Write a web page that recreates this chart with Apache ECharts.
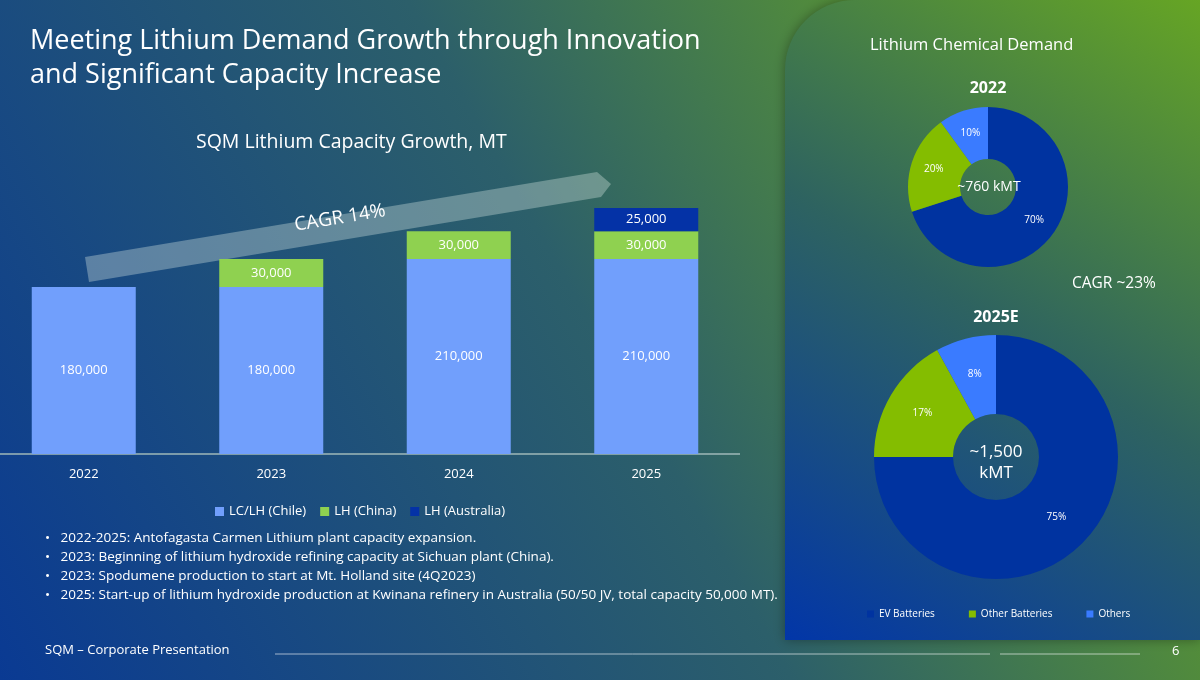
<!DOCTYPE html>
<html>
<head>
<meta charset="utf-8">
<script src="https://cdn.jsdelivr.net/npm/echarts@6/dist/echarts.min.js"></script>
<style>html,body{margin:0;padding:0;}#main{width:1200px;height:680px;}</style>
</head>
<body>
<div id="main"></div>
<script>
// data
const years = ['2022', '2023', '2024', '2025'];
const chile = [180000, 180000, 210000, 210000];
const china = [null, 30000, 30000, 30000];
const australia = [null, null, null, 25000];
const demandNames = ['EV Batteries', 'Other Batteries', 'Others'];
const demand2022 = [70, 20, 10];
const demand2025 = [75, 17, 8];
const bullets = [
  '2022-2025: Antofagasta Carmen Lithium plant capacity expansion.',
  '2023: Beginning of lithium hydroxide refining capacity at Sichuan plant (China).',
  '2023: Spodumene production to start at Mt. Holland site (4Q2023)',
  '2025: Start-up of lithium hydroxide production at Kwinana refinery in Australia (50/50 JV, total capacity 50,000 MT).'
];

const font = 'Open Sans';
const pieColors = ['#0033a0', '#84bd00', '#3a7bff'];
const fmtNum = p => p.value.toLocaleString('en-US');

const chart = echarts.init(document.getElementById('main'));

const bulletTexts = bullets.map((b, i) => ({
  type: 'text', left: 45, top: 531 + i * 19,
  style: { text: '•   ' + b, fill: '#fff', font: '13.5px ' + font }
}));

const option = {
  textStyle: { fontFamily: font },
  graphic: [
    { type: 'rect', z: -10, shape: { x: 0, y: 0, width: 1200, height: 680 },
      style: { fill: new echarts.graphic.LinearGradient(0, 1, 1, 0, [
        { offset: 0, color: '#0a3a93' }, { offset: 0.5, color: '#2c5f6a' }, { offset: 1, color: '#73b312' }]) } },
    { type: 'rect', z: -9, shape: { x: 785, y: 0, width: 415, height: 640, r: [70, 0, 0, 0] },
      style: { fill: new echarts.graphic.LinearGradient(0, 1, 1, 0, [
        { offset: 0, color: '#0236a8' }, { offset: 0.5, color: '#2e6360' }, { offset: 1, color: '#66a524' }]),
        shadowBlur: 12, shadowColor: 'rgba(0,0,0,0.35)' } },
    { type: 'polygon', z: -5, shape: { points: [[85, 257], [597, 172], [611, 184], [601, 197], [89, 282]] },
      style: { fill: 'rgba(220,235,230,0.35)' } },
    { type: 'text', x: 340, y: 218, rotation: 9.4 * Math.PI / 180,
      style: { text: 'CAGR 14%', fill: '#fff', font: '19px ' + font, align: 'center', verticalAlign: 'middle' } },
    { type: 'text', left: 30, top: 24,
      style: { text: 'Meeting Lithium Demand Growth through Innovation\nand Significant Capacity Increase', fill: '#fff', font: '27px ' + font, lineHeight: 34 } },
    { type: 'text', left: 196, top: 132, style: { text: 'SQM Lithium Capacity Growth, MT', fill: '#fff', font: '19.5px ' + font } },
    { type: 'text', left: 870, top: 37, style: { text: 'Lithium Chemical Demand', fill: '#fff', font: '16.5px ' + font } },
    { type: 'text', x: 988, y: 88, style: { text: '2022', fill: '#fff', font: 'bold 16px ' + font, align: 'center', verticalAlign: 'middle' } },
    { type: 'text', x: 996, y: 317, style: { text: '2025E', fill: '#fff', font: 'bold 16px ' + font, align: 'center', verticalAlign: 'middle' } },
    { type: 'text', left: 1072, top: 276, style: { text: 'CAGR ~23%', fill: '#fff', font: '15.5px ' + font } },
    { type: 'text', z: 100, x: 989, y: 187, style: { text: '~760 kMT', fill: '#fff', font: '14px ' + font, align: 'center', verticalAlign: 'middle' } },
    { type: 'text', z: 100, x: 996, y: 463, style: { text: '~1,500\nkMT', fill: '#fff', font: '17px ' + font, align: 'center', verticalAlign: 'middle', lineHeight: 21 } },
    ...bulletTexts,
    { type: 'text', left: 45, top: 644, style: { text: 'SQM – Corporate Presentation', fill: '#fff', font: '13px ' + font } },
    { type: 'line', shape: { x1: 275, y1: 654, x2: 990, y2: 654 }, style: { stroke: 'rgba(255,255,255,0.6)', lineWidth: 1 } },
    { type: 'line', shape: { x1: 1000, y1: 654, x2: 1140, y2: 654 }, style: { stroke: 'rgba(255,255,255,0.6)', lineWidth: 1 } },
    { type: 'line', shape: { x1: 0, y1: 454, x2: 740, y2: 454 }, style: { stroke: '#9fb8b8', lineWidth: 1.5 } },
    { type: 'text', left: 1172, top: 645, style: { text: '6', fill: '#fff', font: '13px ' + font } }
  ],
  legend: [
    { data: ['LC/LH (Chile)', 'LH (China)', 'LH (Australia)'], left: 210, top: 500, itemWidth: 9, itemHeight: 9,
      itemGap: 14, icon: 'rect', textStyle: { color: '#fff', fontSize: 13, fontFamily: font } },
    { data: demandNames, left: 862, top: 604, itemWidth: 7, itemHeight: 7, itemGap: 34, icon: 'rect',
      textStyle: { color: '#fff', fontSize: 10, fontFamily: font } }
  ],
  grid: { left: -10, top: 208, width: 750, height: 246, outerBoundsMode: 'none', containLabel: false },
  xAxis: {
    type: 'category', data: years,
    axisLine: { show: false }, axisTick: { show: false },
    axisLabel: { color: '#fff', fontSize: 13, margin: 14, fontFamily: font }
  },
  yAxis: { type: 'value', min: 0, max: 265000, show: false, splitLine: { show: false } },
  series: [
    { name: 'LC/LH (Chile)', type: 'bar', stack: 'c', data: chile, barWidth: 104, itemStyle: { color: '#719ffc' },
      label: { show: true, position: 'inside', color: '#fff', fontSize: 13, formatter: fmtNum } },
    { name: 'LH (China)', type: 'bar', stack: 'c', data: china, itemStyle: { color: '#8fd150' },
      label: { show: true, position: 'inside', color: '#fff', fontSize: 13, formatter: fmtNum } },
    { name: 'LH (Australia)', type: 'bar', stack: 'c', data: australia, itemStyle: { color: '#0432a6' },
      label: { show: true, position: 'inside', color: '#fff', fontSize: 13, formatter: fmtNum } },
    { type: 'pie', center: [988, 187], radius: [28, 80], startAngle: 90, clockwise: true,
      color: pieColors, silent: true,
      label: { show: true, position: 'inside', color: '#fff', fontSize: 10, formatter: '{c}%' }, labelLine: { show: false },
      data: demandNames.map((n, i) => ({ name: n, value: demand2022[i] })) },
    { type: 'pie', center: [996, 457], radius: [43, 122], startAngle: 90, clockwise: true,
      color: pieColors, silent: true,
      label: { show: true, position: 'inside', color: '#fff', fontSize: 10, formatter: '{c}%' }, labelLine: { show: false },
      data: demandNames.map((n, i) => ({ name: n, value: demand2025[i] })) }
  ]
};
chart.setOption(option);
</script>
</body>
</html>
